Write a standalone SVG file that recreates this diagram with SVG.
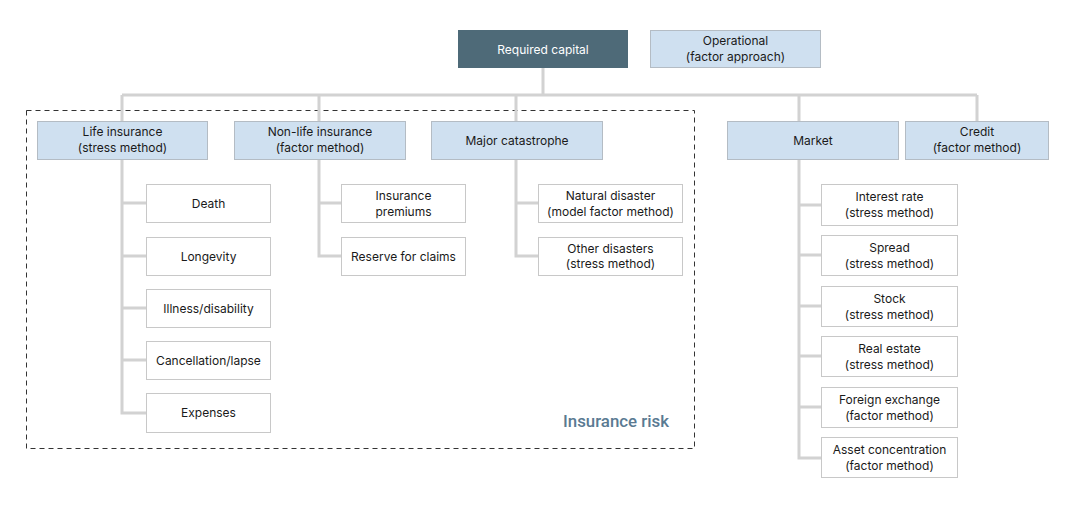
<svg xmlns="http://www.w3.org/2000/svg" width="1075" height="508" viewBox="0 0 1075 508">
<style>
text{font-family:"Inter","Liberation Sans",sans-serif;font-size:12px;fill:#1a1a1a;text-anchor:middle}
.dark{fill:#4e6a78}
.blue{fill:#cfe0f0;stroke:#b4bcc4;stroke-width:1}
.white{fill:#ffffff;stroke:#c8c8c8;stroke-width:1}
.wt{fill:#ffffff}
.conn{fill:none;stroke:#d2d2d2;stroke-width:3}
</style>
<rect width="1075" height="508" fill="#ffffff"/>
<g id="insurance-risk-group">
<rect x="26.5" y="110.5" width="668" height="338" fill="none" stroke="#333" stroke-width="1" stroke-dasharray="5,4"/>
<text x="616" y="427" style="font-family:Roboto,'Liberation Sans',sans-serif;font-size:17px;font-weight:500;fill:#5a7a92" textLength="106" lengthAdjust="spacingAndGlyphs">Insurance risk</text>
</g>
<g id="connectors">
<path class="conn" d="M543 68V95M122 95H977M122 95V121M319 95V121M516 95V121M799 95V121M977 95V121"/>
<path class="conn" d="M122 159V413H146M122 203H146M122 256H146M122 308H146M122 360H146"/>
<path class="conn" d="M319 159V256H341M319 203H341"/>
<path class="conn" d="M516 159V256H538M516 203H538"/>
<path class="conn" d="M799 159V458H821M799 205H821M799 255H821M799 306H821M799 356H821M799 407H821"/>
</g>
<g id="required-capital"><rect class="dark" x="458" y="30" width="170" height="38"/><text class="wt" x="543" y="53.5">Required capital</text></g>
<g id="operational"><rect class="blue" x="650.5" y="30.5" width="170" height="37"/><text x="735.5" y="45">Operational</text><text x="735.5" y="61">(factor approach)</text></g>
<g id="life"><rect class="blue" x="37.5" y="121.5" width="170" height="38"/><text x="122.5" y="136">Life insurance</text><text x="122.5" y="152">(stress method)</text></g>
<g id="nonlife"><rect class="blue" x="234.5" y="121.5" width="171" height="38"/><text x="320" y="136">Non-life insurance</text><text x="320" y="152">(factor method)</text></g>
<g id="catastrophe"><rect class="blue" x="431.5" y="121.5" width="171" height="38"/><text x="517" y="144.5">Major catastrophe</text></g>
<g id="market"><rect class="blue" x="727.5" y="121.5" width="171" height="38"/><text x="813" y="144.5">Market</text></g>
<g id="credit"><rect class="blue" x="905.5" y="121.5" width="143" height="38"/><text x="977" y="136">Credit</text><text x="977" y="152">(factor method)</text></g>
<g id="death"><rect class="white" x="146.5" y="184.5" width="124" height="38"/><text x="208.5" y="207.5">Death</text></g>
<g id="longevity"><rect class="white" x="146.5" y="237.5" width="124" height="38"/><text x="208.5" y="260.5">Longevity</text></g>
<g id="illness"><rect class="white" x="146.5" y="289.5" width="124" height="38"/><text x="208.5" y="312.5">Illness/disability</text></g>
<g id="cancellation"><rect class="white" x="146.5" y="341.5" width="124" height="38"/><text x="208.5" y="364.5">Cancellation/lapse</text></g>
<g id="expenses"><rect class="white" x="146.5" y="393.5" width="124" height="39"/><text x="208.5" y="417">Expenses</text></g>
<g id="premiums"><rect class="white" x="341.5" y="184.5" width="124" height="38"/><text x="403.5" y="200">Insurance</text><text x="403.5" y="215.5">premiums</text></g>
<g id="reserve"><rect class="white" x="341.5" y="237.5" width="124" height="38"/><text x="403.5" y="260.5">Reserve for claims</text></g>
<g id="natural"><rect class="white" x="538.5" y="184.5" width="144" height="38"/><text x="610.5" y="200">Natural disaster</text><text x="610.5" y="215.5">(model factor method)</text></g>
<g id="other"><rect class="white" x="538.5" y="237.5" width="144" height="38"/><text x="610.5" y="252.5">Other disasters</text><text x="610.5" y="268">(stress method)</text></g>
<g id="interest"><rect class="white" x="821.5" y="184.5" width="136" height="41"/><text x="889.5" y="201">Interest rate</text><text x="889.5" y="217">(stress method)</text></g>
<g id="spread"><rect class="white" x="821.5" y="235.5" width="136" height="40"/><text x="889.5" y="251.5">Spread</text><text x="889.5" y="267.5">(stress method)</text></g>
<g id="stock"><rect class="white" x="821.5" y="286.5" width="136" height="40"/><text x="889.5" y="302.5">Stock</text><text x="889.5" y="318.5">(stress method)</text></g>
<g id="realestate"><rect class="white" x="821.5" y="336.5" width="136" height="40"/><text x="889.5" y="352.5">Real estate</text><text x="889.5" y="368.5">(stress method)</text></g>
<g id="fx"><rect class="white" x="821.5" y="387.5" width="136" height="40"/><text x="889.5" y="403.5">Foreign exchange</text><text x="889.5" y="419.5">(factor method)</text></g>
<g id="concentration"><rect class="white" x="821.5" y="437.5" width="136" height="40"/><text x="889.5" y="453.5">Asset concentration</text><text x="889.5" y="469.5">(factor method)</text></g>
</svg>
